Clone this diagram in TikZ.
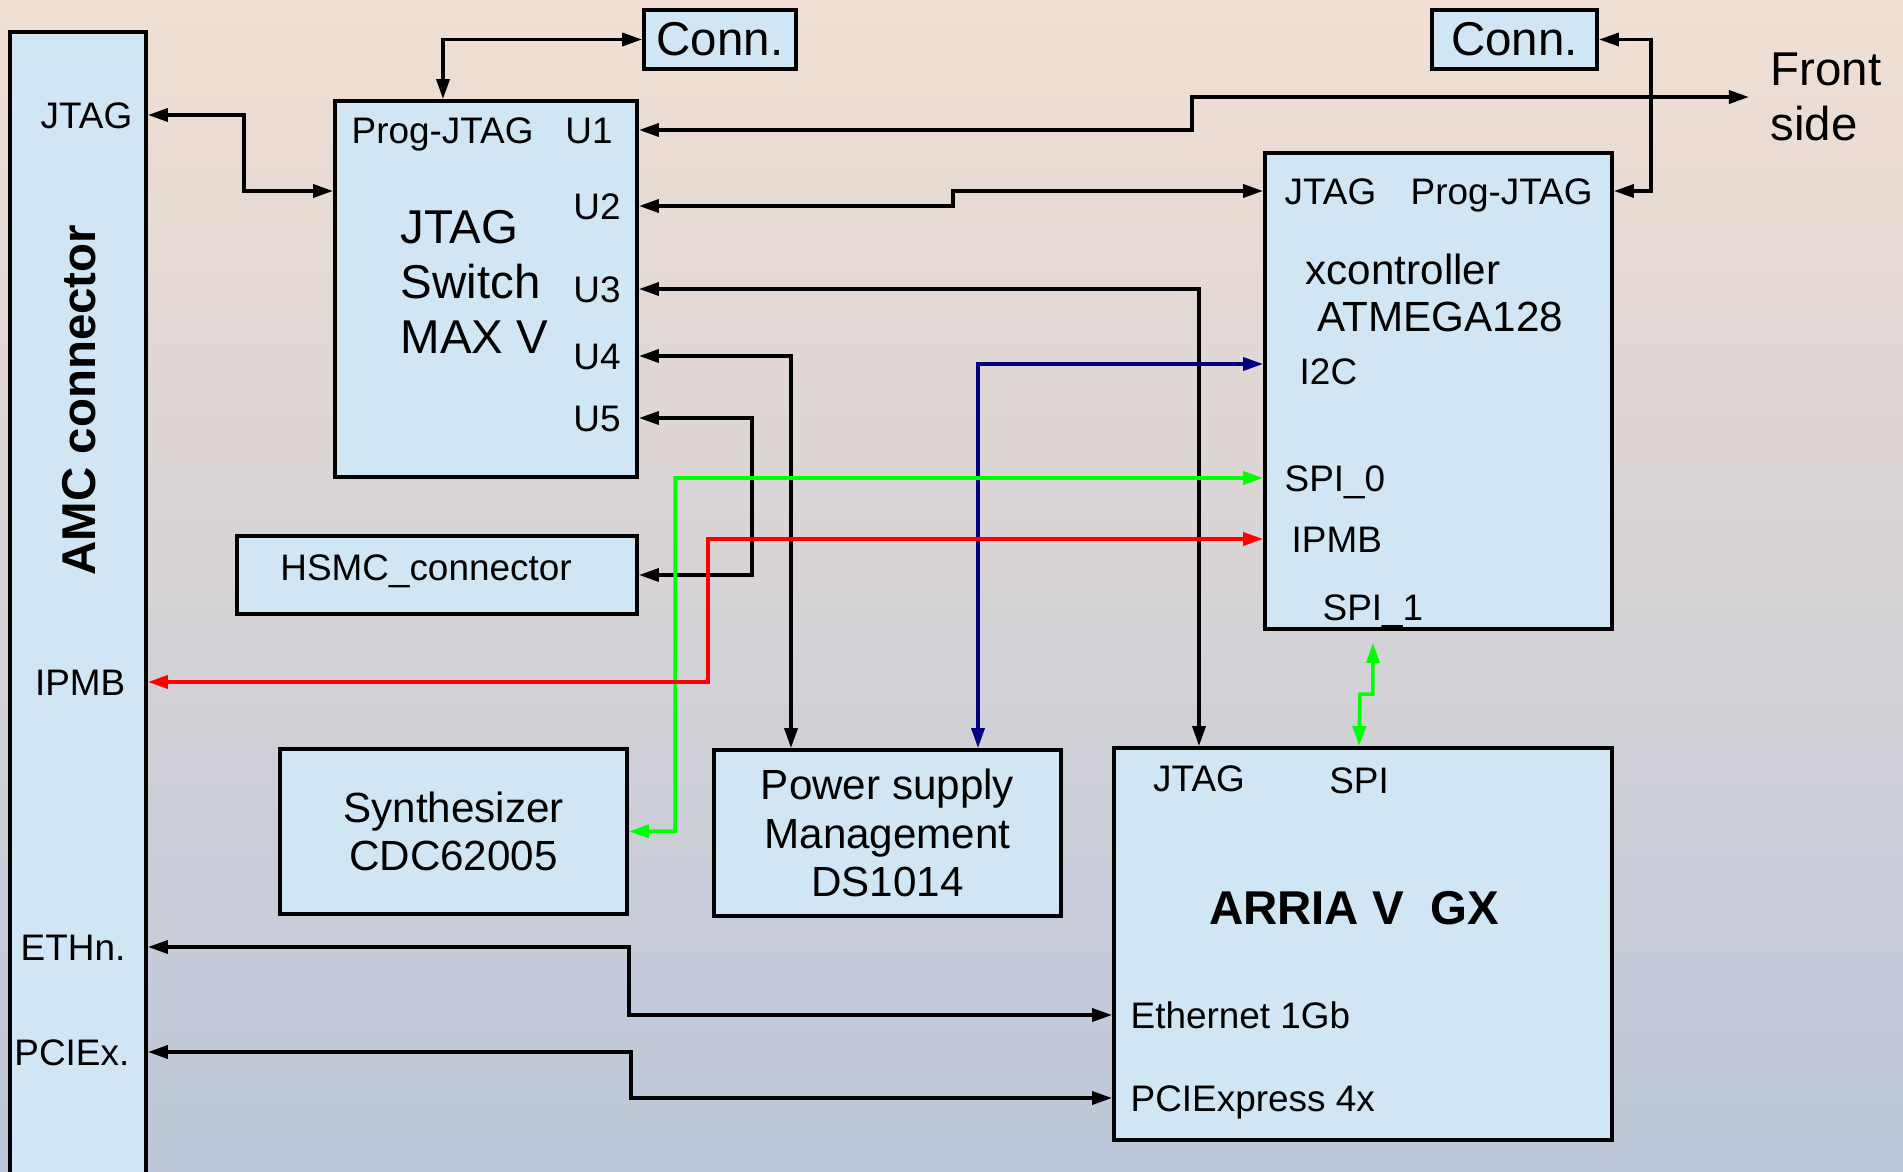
\documentclass[tikz,border=0pt]{standalone}
\usepackage{fontspec}
\setmainfont{Liberation Sans}
\usetikzlibrary{arrows.meta,calc}
\definecolor{boxBlue}{HTML}{D0E6F4}
\definecolor{bgTop}{HTML}{F1DFD3}
\definecolor{bgMid}{HTML}{D8BAC3}
\definecolor{bgBot}{HTML}{BCC7D9}
\definecolor{sigGreen}{HTML}{00FF00}
\definecolor{sigRed}{HTML}{FF0000}
\definecolor{sigNavy}{HTML}{000080}
\newcommand{\fsm}{\fontsize{10.5pt}{12.6pt}\selectfont}
\newcommand{\fmd}{\fontsize{12pt}{13.7pt}\selectfont}
\newcommand{\fbg}{\fontsize{13.5pt}{15.6pt}\selectfont}

\begin{document}
\begin{tikzpicture}[
  box/.style={draw, line width=1.1pt, fill=boxBlue, inner sep=0pt},
  lbl/.style={inner sep=0pt, font=\fsm, text height=7.5pt, text depth=0pt},
  arr/.style={{Triangle[length=2mm,width=1.3mm]}-{Triangle[length=2mm,width=1.3mm]}, line width=1pt}]
  \useasboundingbox (0,0) rectangle (19.03,11.71);
  \shade[top color=bgTop, middle color=bgMid, bottom color=bgBot] (0,0) rectangle (19.03,11.71);

  % AMC connector
  \node[box, minimum width=1.36cm, minimum height=11.49cm] (amc) at (0.78,5.645) {};
  \node[font=\bfseries\fbg, rotate=90, inner sep=0pt] (amcname) at (0.79,7.71) {AMC connector};
  \node[lbl, anchor=east] (ajtag) at (1.33,10.56) {JTAG};
  \node[lbl, anchor=east] (aipmb) at (1.26,4.89) {IPMB};
  \node[lbl, anchor=east] (aeth) at (1.26,2.24) {ETHn.};
  \node[lbl, anchor=east] (apcie) at (1.30,1.19) {PCIEx.};

  % JTAG switch
  \node[box, minimum width=3.02cm, minimum height=3.76cm] (sw) at (4.86,8.82) {};
  \node[lbl, anchor=west] (swprog) at (3.51,10.41) {Prog-JTAG};
  \node[lbl] (u1) at (5.89,10.41) {U1};
  \foreach \n/\y in {2/9.65,3/8.82,4/8.15,5/7.53}
    \node[lbl] (u\n) at (5.97,\y) {U\n};
  \node[font=\fbg, align=left, anchor=west, inner sep=0pt] (swname) at (4.00,8.89) {JTAG\\Switch\\MAX V};

  \node[box, font=\fbg, minimum width=1.52cm, minimum height=0.59cm] (conn1) at (7.20,11.315) {Conn.};
  \node[box, font=\fbg, minimum width=1.65cm, minimum height=0.59cm] (conn2) at (15.145,11.315) {Conn.};
  \node[font=\fbg, align=left, anchor=west, inner sep=0pt] (front) at (17.70,10.74) {Front\\side};

  % xcontroller
  \node[box, minimum width=3.47cm, minimum height=4.76cm] (xc) at (14.385,7.80) {};
  \node[lbl, anchor=west] (xjtag) at (12.84,9.80) {JTAG};
  \node[lbl, anchor=west] (xprog) at (14.10,9.80) {Prog-JTAG};
  \node[lbl, font=\fmd, text height=8.6pt, anchor=west] (xname) at (13.05,9.02) {xcontroller};
  \node[lbl, font=\fmd, text height=8.6pt, anchor=west] (xchip) at (13.17,8.55) {ATMEGA128};
  \node[lbl, anchor=west] (i2c) at (12.99,8.00) {I2C};
  \node[lbl, anchor=west] (spi0) at (12.84,6.93) {SPI\_0};
  \node[lbl, anchor=west] (xipmb) at (12.91,6.32) {IPMB};
  \node[lbl, anchor=west] (spi1) at (13.22,5.64) {SPI\_1};

  \node[box, minimum width=4.00cm, minimum height=0.78cm] (hsmc) at (4.37,5.96) {};
  \node[lbl] (hsmctxt) at (4.26,6.04) {HSMC\_connector};

  \node[box, font=\fmd, align=center, minimum width=3.47cm, minimum height=1.65cm] (synth) at (4.535,3.395) {Synthesizer\\CDC62005};
  \node[box, font=\fmd, align=center, minimum width=3.47cm, minimum height=1.66cm] (psu) at (8.875,3.38) {Power supply\\Management\\DS1014};

  % FPGA
  \node[box, minimum width=4.98cm, minimum height=3.92cm] (arria) at (13.63,2.27) {};
  \node[lbl] (arjtag) at (11.99,3.93) {JTAG};
  \node[lbl] (arspi) at (13.59,3.91) {SPI};
  \node[font=\bfseries\fbg, inner sep=0pt] (arname) at (13.54,2.63) {ARRIA V\ \ GX};
  \node[lbl, anchor=west] (eth) at (11.30,1.56) {Ethernet 1Gb};
  \node[lbl, anchor=west] (pcie) at (11.30,0.73) {PCIExpress 4x};

  % links
  \draw[arr] (amc.east |- ajtag) -| (2.44,9.80) -- (sw.west |- 0,9.80);
  \draw[arr] (4.43,0 |- sw.north) |- (conn1.west);
  \draw[arr, shorten >=6pt] (sw.east |- u1) -| (11.92,10.74) -- (front.west);
  \draw[arr] (sw.east |- u2) -| (9.53,9.80) -- (xc.west |- xjtag);
  \draw[arr] (sw.east |- u3) -| (arjtag |- arria.north);
  \draw[arr] (sw.east |- u4) -| (psu.north -| 7.91,0);
  \draw[arr] (sw.east |- u5) -| (7.52,5.96) -- (hsmc.east);
  \draw[arr] (conn2.east) -| (16.51,9.80) -- (xc.east |- xprog);
  \draw[arr, sigNavy] (xc.west |- 0,8.07) -| (psu.north -| 9.78,0);
  \draw[arr, sigGreen] (xc.west |- spi0) -| (6.75,3.40) -- (synth.east);
  \draw[arr, sigRed] (xc.west |- xipmb) -| (7.08,4.89) -- (amc.east |- aipmb);
  \draw[arr, sigGreen, shorten <=3.4pt] (xc.south -| spi1) |- (13.60,4.77) -- (arspi |- arria.north);
  \draw[arr] (amc.east |- aeth) -| (6.29,1.56) -- (arria.west |- eth);
  \draw[arr] (amc.east |- apcie) -| (6.31,0.73) -- (arria.west |- pcie);
\end{tikzpicture}
\end{document}
